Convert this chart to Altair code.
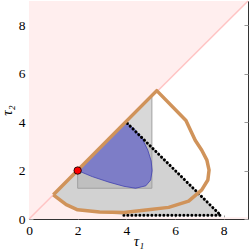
import altair as alt
import pandas as pd

# ---- data ----
ticks = [0, 2, 4, 6, 8]

# infeasible (pink) regions
pink_up_x = [0, 9]
pink_up_lo = [0, 9]
pink_up_hi = [9, 9]
pink_low_x = [0, 1, 1.53, 2, 2.9, 3.9, 4.5, 9]
pink_low_lo = [0, 0, 0, 0, 0, 0, 0, 0]
pink_low_hi = [0, 1, 0.59, 0.38, 0.29, 0.27, 0.07, 0.07]
pink_edge_x = [0, 9]
pink_edge_y = [0, 9]

# hatched set
hatch_x = [1.0, 4.0, 7.88, 3.9, 2.9, 2.0, 1.53, 1.0]
hatch_y = [1.0, 4.0, 0.15, 0.17, 0.3, 0.38, 0.59, 1.0]

# dotted boundary
dot_x = [4.04, 7.88, 3.9]
dot_y = [3.95, 0.15, 0.15]

# gray box (clipped by diagonal)
box_x = [2.0, 2.0, 5.05, 5.05, 2.0]
box_y = [1.27, 2.0, 5.05, 1.27, 1.27]

# blue set
blue_x = [2.0, 3.97, 4.35, 4.65, 4.88, 5.02, 5.06, 5.0, 4.8, 4.38, 3.9, 3.29, 2.6, 2.0]
blue_y = [2.0, 4.0, 3.7, 3.32, 2.85, 2.4, 2.0, 1.61, 1.37, 1.27, 1.35, 1.52, 1.75, 2.0]

# orange closed curve
orange_x = [1.0, 5.25, 6.45, 6.83, 7.1, 7.31, 7.4, 7.35, 7.1, 6.56, 5.74, 4.9, 3.9, 2.9, 2.0, 1.53, 1.0]
orange_y = [1.0, 5.3, 4.07, 3.25, 2.84, 2.43, 2.02, 1.61, 1.2, 0.74, 0.48, 0.38, 0.27, 0.29, 0.38, 0.59, 1.0]

# red point
pt_x = [2.0]
pt_y = [2.0]


def poly(xs, ys):
    return pd.DataFrame({"x": xs, "y": ys, "i": list(range(len(xs)))})


FONT = "Liberation Serif"
xs = alt.Scale(domain=[0, 9], nice=False, zero=False)
ys = alt.Scale(domain=[0, 9], nice=False, zero=False)

ax_bottom = alt.Axis(orient="bottom", values=ticks, offset=-4, tickSize=4, domain=False, grid=False,
                     tickColor="#999999", labelFont=FONT, labelFontSize=13.5, labelPadding=4,
                     labelColor="black", labelFlush=False, title="τ₁", titleFont=FONT, titleFontSize=15,
                     titleFontStyle="italic", titleFontWeight="normal", titleColor="black",
                     titleBaseline="alphabetic", titleY=30)
ax_left = alt.Axis(orient="left", values=ticks, offset=-4, tickSize=4, domain=False, grid=False,
                   tickColor="#999999", labelFont=FONT, labelFontSize=13.5, labelPadding=4,
                   labelColor="black", labelFlush=False, title="τ₂", titleFont=FONT, titleFontSize=15,
                   titleFontStyle="italic", titleFontWeight="normal", titleColor="black",
                   titleBaseline="alphabetic", titleAngle=270, titleX=-22, titleY=109)
ax_top = alt.Axis(orient="top", values=ticks, offset=-4, tickSize=4, domain=False, grid=False,
                  labels=False, tickColor="#999999", title=None)
ax_right = alt.Axis(orient="right", values=ticks, offset=-4, tickSize=4, domain=False, grid=False,
                    labels=False, tickColor="#999999", title=None)

pink_up = alt.Chart(pd.DataFrame({"x": pink_up_x, "y": pink_up_lo, "y2": pink_up_hi})).mark_area(
    color="#ffeeee", opacity=1).encode(
    x=alt.X("x:Q", scale=xs, axis=ax_bottom),
    y=alt.Y("y:Q", scale=ys, axis=ax_left),
    y2="y2:Q")

pink_low = alt.Chart(pd.DataFrame({"x": pink_low_x, "y": pink_low_lo, "y2": pink_low_hi})).mark_area(
    color="#ffeeee", opacity=1).encode(
    x=alt.X("x:Q", scale=xs, axis=ax_top),
    y=alt.Y("y:Q", scale=ys, axis=ax_right),
    y2="y2:Q")

pink_edge = alt.Chart(poly(pink_edge_x, pink_edge_y)).mark_line(color="#ffc4c4", strokeWidth=1.5).encode(
    x=alt.X("x:Q", scale=xs, axis=None), y=alt.Y("y:Q", scale=ys, axis=None), order="i:Q")

hatch = alt.Chart(poly(hatch_x, hatch_y)).mark_line(fill="#d2d2d2", stroke="#d2d2d2", strokeWidth=0.5).encode(
    x=alt.X("x:Q", scale=xs, axis=None), y=alt.Y("y:Q", scale=ys, axis=None), order="i:Q")

box = alt.Chart(poly(box_x, box_y)).mark_line(fill="#a8a8a8", fillOpacity=0.45, stroke="#a0a0a0",
                                              strokeWidth=1).encode(
    x=alt.X("x:Q", scale=xs, axis=None), y=alt.Y("y:Q", scale=ys, axis=None), order="i:Q")

blue = alt.Chart(poly(blue_x, blue_y)).mark_line(fill="#3c3cd0", fillOpacity=0.5, stroke="#4040b0",
                                                 strokeWidth=0.8).encode(
    x=alt.X("x:Q", scale=xs, axis=None), y=alt.Y("y:Q", scale=ys, axis=None), order="i:Q")

dotted = alt.Chart(poly(dot_x, dot_y)).mark_line(color="black", strokeWidth=3, strokeDash=[0.1, 3.9],
                                                 strokeCap="round").encode(
    x=alt.X("x:Q", scale=xs, axis=None), y=alt.Y("y:Q", scale=ys, axis=None), order="i:Q")

orange = alt.Chart(poly(orange_x, orange_y)).mark_line(color="#d0935a", strokeWidth=3.5,
                                                       strokeJoin="round").encode(
    x=alt.X("x:Q", scale=xs, axis=None), y=alt.Y("y:Q", scale=ys, axis=None), order="i:Q")

point = alt.Chart(pd.DataFrame({"x": pt_x, "y": pt_y})).mark_point(
    filled=True, fill="red", stroke="black", strokeWidth=0.8, size=55, opacity=1).encode(
    x=alt.X("x:Q", scale=xs, axis=None), y=alt.Y("y:Q", scale=ys, axis=None))

chart = alt.layer(pink_up, pink_low, pink_edge, hatch, box, blue, dotted, orange, point).resolve_axis(
    x="independent", y="independent").properties(
    width=219, height=218,
    padding={"left": 29, "top": 1, "right": 1, "bottom": 31},
    autosize=alt.AutoSizeParams(type="none"),
).configure_view(stroke="#333333", strokeWidth=1)

chart.save("out.html", embed_options={"renderer": "svg", "actions": False,
                                      "defaultStyle": "body{margin:0}"})
